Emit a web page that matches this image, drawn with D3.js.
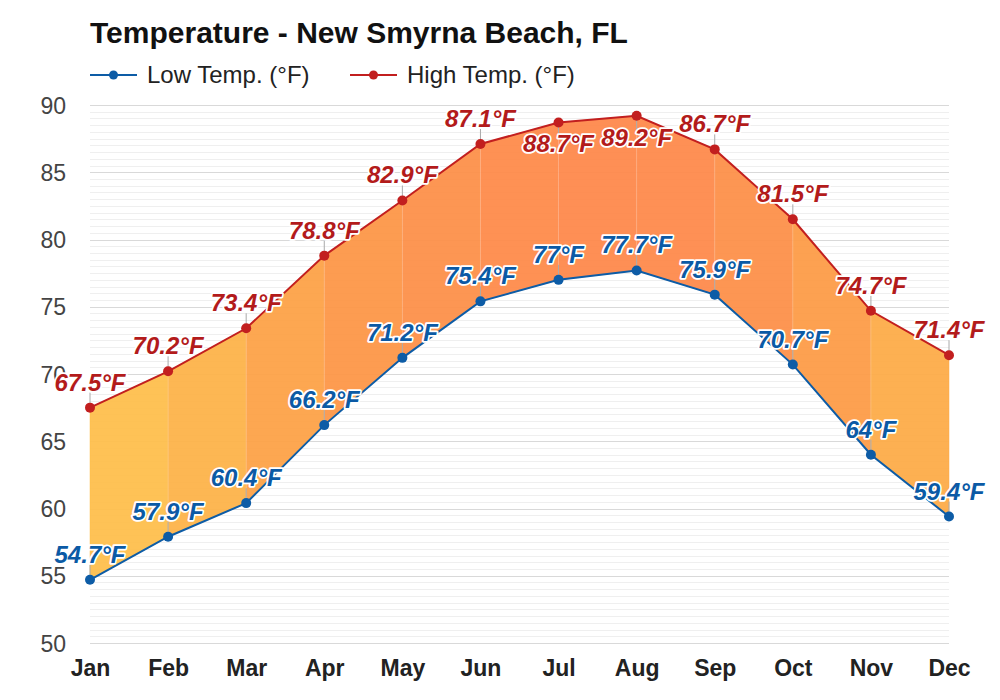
<!DOCTYPE html>
<html>
<head>
<meta charset="utf-8">
<script src="https://cdn.jsdelivr.net/npm/d3@7"></script>
<style>
  html, body { margin: 0; padding: 0; background: #fff; }
  svg { display: block; font-family: "Liberation Sans", Arial, sans-serif; }
</style>
</head>
<body>
<svg id="chart" width="1000" height="700"></svg>
<script>
const months = ["Jan","Feb","Mar","Apr","May","Jun","Jul","Aug","Sep","Oct","Nov","Dec"];
const lowTemps = [54.7, 57.9, 60.4, 66.2, 71.2, 75.4, 77.0, 77.7, 75.9, 70.7, 64.0, 59.4];
const highTemps = [67.5, 70.2, 73.4, 78.8, 82.9, 87.1, 88.7, 89.2, 86.7, 81.5, 74.7, 71.4];
const yTicks = [50, 55, 60, 65, 70, 75, 80, 85, 90];
const title = "Temperature - New Smyrna Beach, FL";
const seriesNames = ["Low Temp. (°F)", "High Temp. (°F)"];

(function () {
const lowColor = "#0d5ca6", highColor = "#c21f1f";
const lowText = "#0b5aa5", highText = "#b31b1b";

const svg = d3.select("#chart");
const pLeft = 90, pRight = 949, pTop = 105, pBottom = 643;

const x = d3.scalePoint().domain(months).range([pLeft, pRight]);
const y = d3.scaleLinear().domain([50, 90]).range([pBottom, pTop]);

// Title
svg.append("text").attr("x", 90).attr("y", 43)
  .attr("font-size", 30).attr("font-weight", "bold").attr("fill", "#111")
  .text(title);

// Legend
const legendItems = [
  {name: seriesNames[0], color: lowColor, x: 90},
  {name: seriesNames[1], color: highColor, x: 350}
];
legendItems.forEach(it => {
  const g = svg.append("g");
  g.append("line").attr("x1", it.x).attr("x2", it.x + 47).attr("y1", 75).attr("y2", 75)
    .attr("stroke", it.color).attr("stroke-width", 2);
  g.append("circle").attr("cx", it.x + 23.5).attr("cy", 75).attr("r", 4.5).attr("fill", it.color);
  g.append("text").attr("x", it.x + 57).attr("y", 83).attr("font-size", 24).attr("fill", "#222")
    .text(it.name);
});

// Grid lines: minor every 0.5, major every 5
const minor = d3.range(50, 90.01, 0.5).filter(v => v % 5 !== 0);
svg.append("g").selectAll("line").data(minor).join("line")
  .attr("x1", pLeft).attr("x2", pRight)
  .attr("y1", d => Math.round(y(d)) + 0.5).attr("y2", d => Math.round(y(d)) + 0.5)
  .attr("stroke", "#efefef").attr("stroke-width", 1);
svg.append("g").selectAll("line").data(yTicks).join("line")
  .attr("x1", pLeft).attr("x2", pRight)
  .attr("y1", d => Math.round(y(d)) + 0.5).attr("y2", d => Math.round(y(d)) + 0.5)
  .attr("stroke", "#d9d9d9").attr("stroke-width", 1);

// Y axis labels
const yAxis = d3.axisLeft(y).tickValues(yTicks).tickSize(0).tickPadding(0);
const yg = svg.append("g").attr("transform", `translate(${pLeft - 24},0)`).call(yAxis);
yg.select(".domain").remove();
yg.selectAll("text").attr("font-size", 23).attr("fill", "#444")
  .attr("font-family", "Liberation Sans, Arial, sans-serif").attr("dy", "0.35em");

// X axis labels
const xAxis = d3.axisBottom(x).tickSize(0).tickPadding(0);
const xg = svg.append("g").attr("transform", `translate(0,${pBottom + 17})`).call(xAxis);
xg.select(".domain").remove();
xg.selectAll("text").attr("font-size", 23).attr("font-weight", "bold").attr("fill", "#222")
  .attr("font-family", "Liberation Sans, Arial, sans-serif").attr("dy", "0.71em");

// Segment fills coloured by average temperature
const colorScale = d3.scaleLinear().domain([62, 66, 70, 76, 83])
  .range(["#fec04b", "#fdb148", "#fda046", "#fd9446", "#fe884a"]).clamp(true);
const segs = d3.range(months.length - 1).map(i => ({
  i,
  avg: (lowTemps[i] + lowTemps[i+1] + highTemps[i] + highTemps[i+1]) / 4
}));
const area = d3.area().x(d => x(d.m)).y0(d => y(d.lo)).y1(d => y(d.hi));
svg.append("g").selectAll("path").data(segs).join("path")
  .attr("d", s => area([
    {m: months[s.i], lo: lowTemps[s.i], hi: highTemps[s.i]},
    {m: months[s.i+1], lo: lowTemps[s.i+1], hi: highTemps[s.i+1]}
  ]))
  .attr("fill", s => colorScale(s.avg)).attr("fill-opacity", 0.94)
  .attr("stroke", s => colorScale(s.avg)).attr("stroke-width", 0.5);

// faint separators
svg.append("g").selectAll("line").data(months.slice(1, -1)).join("line")
  .attr("x1", d => x(d)).attr("x2", d => x(d))
  .attr("y1", (d, i) => y(lowTemps[i+1])).attr("y2", (d, i) => y(highTemps[i+1]))
  .attr("stroke", "#fff").attr("stroke-opacity", 0.25).attr("stroke-width", 1);

// Lines
const line = d3.line().x((d, i) => x(months[i])).y(d => y(d));
svg.append("path").datum(lowTemps).attr("d", line).attr("fill", "none")
  .attr("stroke", lowColor).attr("stroke-width", 2);
svg.append("path").datum(highTemps).attr("d", line).attr("fill", "none")
  .attr("stroke", highColor).attr("stroke-width", 2);

// Label ticks + labels
function fmt(v) { return (Math.round(v * 10) / 10) + "°F"; }
function drawLabels(values, textColor, dotColor) {
  const g = svg.append("g");
  values.forEach((v, i) => {
    const px = x(months[i]), py = y(v);
    const below = py - 32 < pTop;
    g.append("line").attr("x1", px).attr("x2", px)
      .attr("y1", py).attr("y2", below ? py + 16 : py - 15)
      .attr("stroke", "#aaa").attr("stroke-width", 1);
  });
  values.forEach((v, i) => {
    g.append("circle").attr("cx", x(months[i])).attr("cy", y(v)).attr("r", 5).attr("fill", dotColor);
  });
  values.forEach((v, i) => {
    const px = x(months[i]), py = y(v);
    const below = py - 32 < pTop;
    g.append("text").attr("x", px).attr("y", below ? py + 30 : py - 17)
      .attr("text-anchor", "middle").attr("font-size", 24).attr("font-weight", "bold")
      .attr("font-style", "italic").attr("fill", textColor)
      .attr("stroke", "#fff").attr("stroke-width", 3.5).attr("stroke-linejoin", "round")
      .attr("paint-order", "stroke")
      .text(fmt(v));
  });
}
drawLabels(lowTemps, lowText, lowColor);
drawLabels(highTemps, highText, highColor);
})();
</script>
</body>
</html>
